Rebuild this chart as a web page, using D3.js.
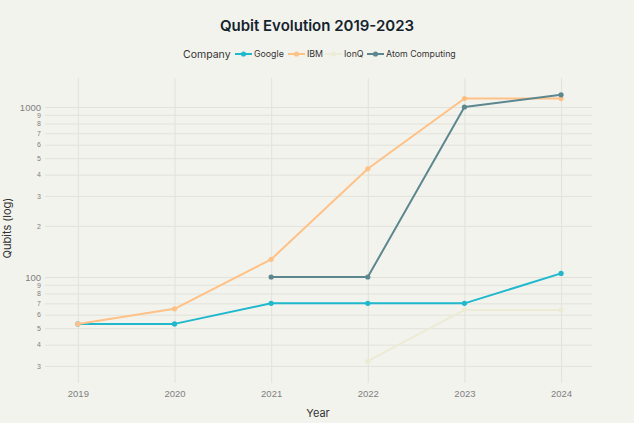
<!DOCTYPE html>
<html><head><meta charset="utf-8">
<script src="https://cdn.jsdelivr.net/npm/d3@7"></script>
<style>
html,body{margin:0;padding:0;background:#F3F3EE;}
svg{display:block;font-family:Inter,"Open Sans",sans-serif;}
</style></head>
<body>
<svg id="c" width="634" height="423"></svg>
<script>
const years = [2019, 2020, 2021, 2022, 2023, 2024];
const google = [53, 53, 70, 70, 70, 105];
const ibm = [53, 65, 127, 433, 1121, 1121];
const ionq = [null, null, null, 32, 64, 64];
const atom = [null, null, 100, 100, 1000, 1180];
const seriesNames = ["Google", "IBM", "IonQ", "Atom Computing"];
const seriesColors = ["#1FB8CD", "#FFC185", "#ECEBD5", "#5D878F"];
const yTickValues = [30,40,50,60,70,80,90,100,200,300,400,500,600,700,800,900,1000];
const xTickValues = years;

const series = [google, ibm, ionq, atom].map((vals, i) => ({
  name: seriesNames[i], color: seriesColors[i],
  pts: years.map((y, j) => ({x: y, v: vals[j]})).filter(d => d.v != null)
}));

const svg = d3.select("#c");
const L = 45, R = 592, T = 78, B = 383;
const x = d3.scaleLinear().domain([2018.66, 2024.32]).range([L, R]);
const y = d3.scaleLog().domain([23.8, 1481]).range([B, T]);
const isMajor = d => d === 100 || d === 1000;

// y axis with grid
const yAxis = d3.axisLeft(y).tickValues(yTickValues)
  .tickSize(-(R - L)).tickPadding(4)
  .tickFormat(d => isMajor(d) ? String(d) : String(Math.round(d / Math.pow(10, Math.floor(Math.log10(d) + 1e-9)))));
const gy = svg.append("g").attr("transform", `translate(${L},0)`).call(yAxis);
gy.select(".domain").remove();
gy.selectAll(".tick line").attr("stroke", "#E2E2DA").attr("stroke-width", 1);
gy.selectAll(".tick text").attr("fill", "#808080")
  .attr("font-size", d => isMajor(d) ? 9.5 : 7)
  .attr("x", -4);

// x axis with grid
const xAxis = d3.axisBottom(x).tickValues(xTickValues).tickFormat(d3.format("d"))
  .tickSize(-(B - T)).tickPadding(7);
const gx = svg.append("g").attr("transform", `translate(0,${B})`).call(xAxis);
gx.select(".domain").remove();
gx.selectAll(".tick line").attr("stroke", "#E2E2DA").attr("stroke-width", 1);
gx.selectAll(".tick text").attr("fill", "#808080").attr("font-size", 9.5);

// lines
const line = d3.line().x(d => x(d.x)).y(d => y(d.v));
series.forEach(s => {
  const g = svg.append("g");
  g.append("path").datum(s.pts).attr("d", line)
    .attr("fill", "none").attr("stroke", s.color).attr("stroke-width", 2)
    .attr("stroke-linejoin", "round");
  g.selectAll("circle").data(s.pts).join("circle")
    .attr("cx", d => x(d.x)).attr("cy", d => y(d.v)).attr("r", 2.6)
    .attr("fill", s.color);
});

// title
svg.append("text").attr("x", 317).attr("y", 31).attr("text-anchor", "middle")
  .attr("font-size", 15).attr("font-weight", 600).attr("fill", "#13232d")
  .text("Qubit Evolution 2019-2023");

// axis titles
svg.append("text").attr("x", 318).attr("y", 417).attr("text-anchor", "middle")
  .attr("font-size", 11).attr("fill", "#333").text("Year");
svg.append("text").attr("transform", "translate(11,228) rotate(-90)")
  .attr("text-anchor", "middle").attr("font-size", 11).attr("fill", "#333")
  .text("Qubits (log)");

// legend
const lg = svg.append("g").attr("transform", "translate(0,54)");
lg.append("text").attr("x", 183).attr("y", 4).attr("font-size", 10.5).attr("fill", "#333").text("Company");
const legX = [235, 288, 325, 367];
series.forEach((s, i) => {
  const g = lg.append("g").attr("transform", `translate(${legX[i]},0)`);
  g.append("line").attr("x1", 0).attr("x2", 17).attr("y1", 0).attr("y2", 0)
    .attr("stroke", s.color).attr("stroke-width", 2);
  g.append("circle").attr("cx", 8.5).attr("cy", 0).attr("r", 2.6).attr("fill", s.color);
  g.append("text").attr("x", 19).attr("y", 3.2).attr("font-size", 8.8).attr("fill", "#333").text(s.name);
});
</script>
</body></html>
